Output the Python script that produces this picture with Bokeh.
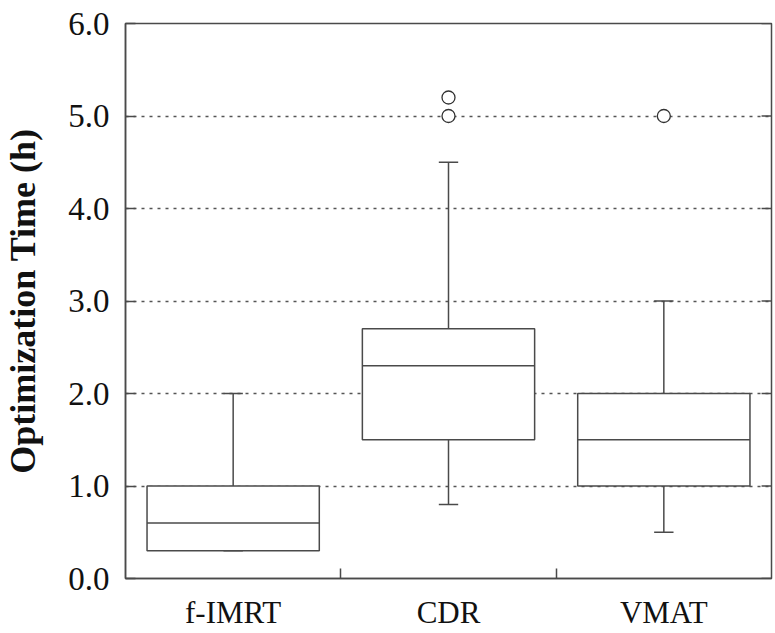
from bokeh.plotting import figure
from bokeh.models import FixedTicker, Range1d, ColumnDataSource
from bokeh.embed import file_html
from bokeh.resources import INLINE

categories = ["f-IMRT", "CDR", "VMAT"]
lower = [0.3, 0.8, 0.5]
q1 = [0.3, 1.5, 1.0]
median = [0.6, 2.3, 1.5]
q3 = [1.0, 2.7, 2.0]
upper = [2.0, 4.5, 3.0]
outlier_category = ["CDR", "CDR", "VMAT"]
outlier_value = [5.0, 5.2, 5.0]
y_ticks = [0, 1, 2, 3, 4, 5, 6]
y_tick_labels = ["0.0", "1.0", "2.0", "3.0", "4.0", "5.0", "6.0"]
grid_levels = [1, 2, 3, 4, 5]
y_label = "Optimization Time (h)"

FONT = "Liberation Serif"
LINE = "#4a4a4a"
BOX_W = 0.8
CAP_W = 0.09
W, H = 774, 632
MB_L, MB_R, MB_T, MB_B = 122, 3, 23, 52
N = len(categories)
FRAME_W = W - MB_L - MB_R
TICK_DX = N * 10.0 / FRAME_W   # 10 px inward tick on the right edge

xc = [i + 0.5 for i in range(N)]
src = ColumnDataSource(dict(
    x=xc,
    x0=[x - BOX_W / 2 for x in xc],
    x1=[x + BOX_W / 2 for x in xc],
    c0=[x - CAP_W / 2 for x in xc],
    c1=[x + CAP_W / 2 for x in xc],
    lower=lower, q1=q1, median=median, q3=q3, upper=upper,
))
out_src = ColumnDataSource(dict(
    x=[categories.index(c) + 0.5 for c in outlier_category],
    y=outlier_value,
))
rtick_src = ColumnDataSource(dict(
    x0=[N - TICK_DX] * len(y_ticks), x1=[N] * len(y_ticks), y=y_ticks,
))

p = figure(width=W, height=H, output_backend="svg", toolbar_location=None,
           x_range=Range1d(0, N), y_range=Range1d(0, 6), min_border=0,
           min_border_left=MB_L, min_border_right=MB_R, min_border_top=MB_T,
           min_border_bottom=MB_B)
p.background_fill_color = "white"
p.border_fill_color = "white"
p.outline_line_color = LINE
p.outline_line_width = 1.5

# x axis: labels at category centres, tick marks at the boundaries
xa = p.xaxis[0]
xa.ticker = FixedTicker(ticks=xc, minor_ticks=list(range(1, N)))
xa.major_label_overrides = {x: c for x, c in zip(xc, categories)}
xa.major_tick_in = 0
xa.major_tick_out = 0
xa.minor_tick_in = 10
xa.minor_tick_out = 0
xa.minor_tick_line_color = LINE
xa.minor_tick_line_width = 1.5
xa.axis_line_color = LINE
xa.axis_line_width = 1.5
xa.major_label_text_font = FONT
xa.major_label_text_font_size = "31px"
xa.major_label_text_color = "#111111"
xa.major_label_standoff = 16

ya = p.yaxis[0]
ya.ticker = FixedTicker(ticks=y_ticks, minor_ticks=[])
ya.major_label_overrides = {t: l for t, l in zip(y_ticks, y_tick_labels)}
ya.major_tick_in = 10
ya.major_tick_out = 0
ya.major_tick_line_color = LINE
ya.major_tick_line_width = 1.5
ya.minor_tick_line_color = None
ya.axis_line_color = LINE
ya.axis_line_width = 1.5
ya.major_label_text_font = FONT
ya.major_label_text_font_size = "33px"
ya.major_label_text_color = "#111111"
ya.major_label_standoff = 16
ya.axis_label = y_label
ya.axis_label_text_font = FONT
ya.axis_label_text_font_size = "36px"
ya.axis_label_text_font_style = "bold"
ya.axis_label_text_color = "#111111"
ya.axis_label_standoff = 22

p.xgrid.grid_line_color = None
p.ygrid.ticker = FixedTicker(ticks=grid_levels)
p.ygrid.grid_line_color = "#555555"
p.ygrid.grid_line_dash = "3 5"
p.ygrid.grid_line_width = 1.3

# inward tick marks on the right edge
p.segment(x0="x0", y0="y", x1="x1", y1="y", source=rtick_src, line_color=LINE, line_width=1.5)
# whiskers
p.segment(x0="x", y0="q3", x1="x", y1="upper", source=src, line_color=LINE, line_width=1.5)
p.segment(x0="x", y0="lower", x1="x", y1="q1", source=src, line_color=LINE, line_width=1.5)
# boxes
p.quad(left="x0", right="x1", bottom="q1", top="q3", source=src,
       fill_color="white", line_color=LINE, line_width=1.5)
# medians
p.segment(x0="x0", y0="median", x1="x1", y1="median", source=src, line_color=LINE, line_width=1.5)
# caps
p.segment(x0="c0", y0="upper", x1="c1", y1="upper", source=src, line_color=LINE, line_width=1.5)
p.segment(x0="c0", y0="lower", x1="c1", y1="lower", source=src, line_color=LINE, line_width=1.5)
# outliers
p.scatter(x="x", y="y", source=out_src, marker="circle", size=13,
          fill_color="white", line_color="#333333", line_width=1.3)

open("out.html", "w").write(file_html(p, INLINE))
